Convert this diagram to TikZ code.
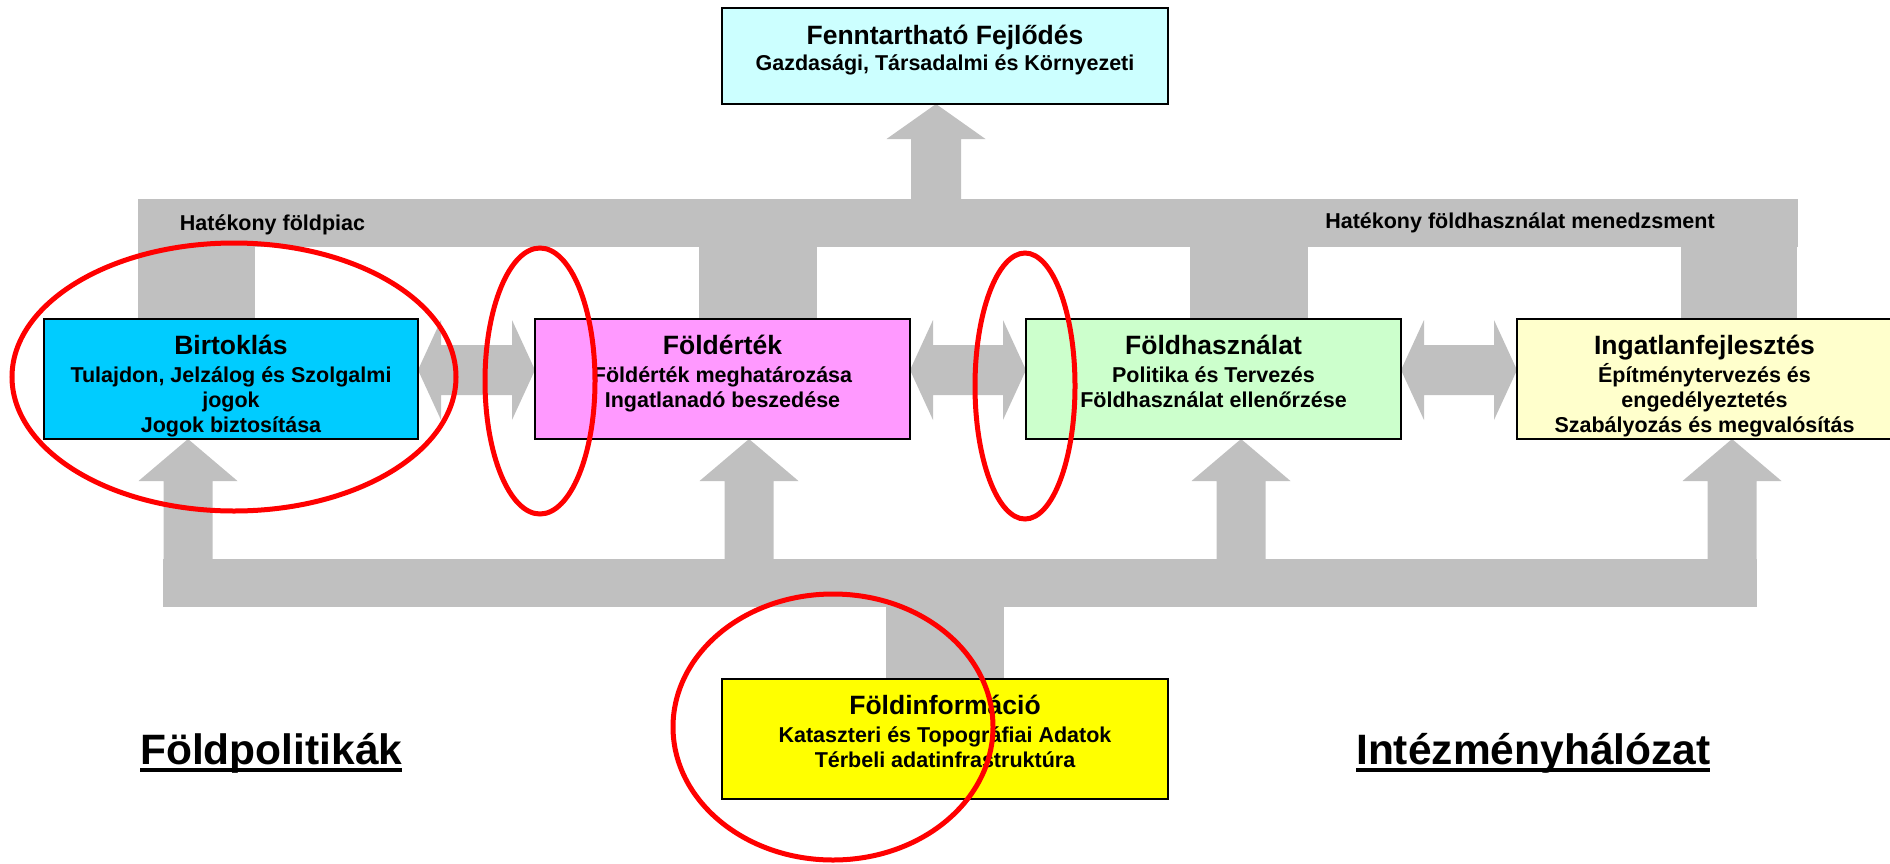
\documentclass[tikz,border=0pt]{standalone}
\usepackage{fontspec}
\setmainfont{Liberation Sans}
\usetikzlibrary{calc}
\pgfdeclarelayer{bg}
\pgfsetlayers{bg,main}
\definecolor{grayc}{HTML}{C0C0C0}
\definecolor{cyanl}{HTML}{CCFFFF}
\definecolor{cyanb}{HTML}{00CCFF}
\definecolor{pinkb}{HTML}{FF99FF}
\definecolor{greenb}{HTML}{CCFFCC}
\definecolor{yellowl}{HTML}{FFFFCC}
\definecolor{yellowb}{HTML}{FFFF00}
\definecolor{redc}{HTML}{FF0000}
\newcommand\boxtext[5]{% width, height, first baseline, gap, content (title then lines)
  \parbox[t][#2][t]{#1}{\centering\bfseries #5\par}}
\newcommand\ttlA[2]{{\fontsize{26.5}{28}\selectfont\rule{0pt}{#1}#2\par}}
\newcommand\subA[2]{\vspace{#1}{\fontsize{21.5}{25}\selectfont #2\par}}
\newcommand\myul[1]{\setbox0\hbox{#1}\rlap{\rule[-7.5pt]{\wd0}{3.5pt}}\box0}
\newcommand\dbarrow[2]{%
  \fill[grayc] let \p1=(#1.east), \p2=(#2.west) in
   (\x1,\y1+9pt) -- (\x1+23pt,\y1+59pt) -- (\x1+23pt,\y1+34pt) --
   (\x2-23pt,\y1+34pt) -- (\x2-23pt,\y1+59pt) -- (\x2,\y1+9pt) --
   (\x2-23pt,\y1-41pt) -- (\x2-23pt,\y1-16pt) -- (\x1+23pt,\y1-16pt) --
   (\x1+23pt,\y1-41pt) -- cycle;}
\newcommand\uparr[2]{%
  \fill[grayc] let \p1=([xshift=#2]#1.south) in
   (\x1,\y1) -- (\x1+49.5pt,\y1-42pt) -- (\x1+24.5pt,\y1-42pt) --
   (\x1+24.5pt,\y1-121pt) -- (\x1-24.5pt,\y1-121pt) -- (\x1-24.5pt,\y1-42pt) --
   (\x1-49.5pt,\y1-42pt) -- cycle;}
\begin{document}
\begin{tikzpicture}[x=1pt,y=-1pt,
  box/.style={draw=black,line width=2pt,inner sep=0pt,outer sep=0pt,anchor=north west},
  lbl/.style={font=\bfseries\fontsize{21.5}{25}\selectfont,inner sep=0pt,anchor=base},
  biglbl/.style={font=\bfseries\fontsize{42.5}{46}\selectfont,inner sep=0pt,anchor=base west},
  ring/.style={draw=redc,line width=5pt}]
\useasboundingbox (0,0) rectangle (1890,863);

% boxes
\node[box,fill=cyanl] (top) at (722,8) {\boxtext{446pt}{96pt}{}{}{%
  \ttlA{36pt}{Fenntartható Fejlődés}\subA{1pt}{Gazdasági, Társadalmi és Környezeti}}};
\node[box,fill=cyanb] (birt) at (44,319) {\boxtext{374pt}{120pt}{}{}{%
  \ttlA{35pt}{Birtoklás}\subA{3pt}{Tulajdon, Jelzálog és Szolgalmi\\ jogok\\ Jogok biztosítása}}};
\node[box,fill=pinkb] (fert) at (535,319) {\boxtext{375pt}{120pt}{}{}{%
  \ttlA{35pt}{Földérték}\subA{3pt}{Földérték meghatározása\\ Ingatlanadó beszedése}}};
\node[box,fill=greenb] (fhasz) at (1026,319) {\boxtext{375pt}{120pt}{}{}{%
  \ttlA{35pt}{Földhasználat}\subA{3pt}{Politika és Tervezés\\ Földhasználat ellenőrzése}}};
\node[box,fill=yellowl] (ingat) at (1517,319) {\boxtext{375pt}{120pt}{}{}{%
  \ttlA{35pt}{Ingatlanfejlesztés}\subA{3pt}{Építménytervezés és\\ engedélyeztetés\\ Szabályozás és megvalósítás}}};
\node[box,fill=yellowb] (finfo) at (722,679) {\boxtext{446pt}{120pt}{}{}{%
  \ttlA{35pt}{Földinformáció}\subA{3pt}{Kataszteri és Topográfiai Adatok\\ Térbeli adatinfrastruktúra}}};

\begin{pgfonlayer}{bg}
  % top bus
  \fill[grayc] (138,199) rectangle (1798,247);
  \fill[grayc] (138,246) rectangle (255,320);
  \fill[grayc] (699,246) rectangle (817,320);
  \fill[grayc] (1190,246) rectangle (1308,320);
  \fill[grayc] (1681,246) rectangle (1797,320);
  \fill[grayc] let \p1=([xshift=-9pt]top.south) in
   (\x1,\y1) -- (\x1+49.5pt,\y1-35pt) -- (\x1+25pt,\y1-35pt) --
   (\x1+25pt,\y1-96pt) -- (\x1-25pt,\y1-96pt) -- (\x1-25pt,\y1-35pt) --
   (\x1-49.5pt,\y1-35pt) -- cycle;
  % bottom bus
  \fill[grayc] (163,559) rectangle (1757,607);
  \fill[grayc] (886,606) rectangle (1004,680);
  \uparr{birt}{-43pt}
  \uparr{fert}{26.5pt}
  \uparr{fhasz}{27.5pt}
  \uparr{ingat}{27.5pt}
  % double arrows
  \dbarrow{birt}{fert}
  \dbarrow{fert}{fhasz}
  \dbarrow{fhasz}{ingat}
\end{pgfonlayer}

% labels
\node[lbl] (lmarket) at (272.5,230) {Hatékony földpiac};
\node[lbl] (lmgmt) at (1520,228) {Hatékony földhasználat menedzsment};
\node[biglbl] (lpol) at (140,764) {\myul{Földpolitikák}};
\node[biglbl] (lint) at (1356,764) {\myul{Intézményhálózat}};

% red rings
\draw[ring] (234,377) ellipse [x radius=222, y radius=134];
\draw[ring] (540,381) ellipse [x radius=55, y radius=133];
\draw[ring] (1025,386) ellipse [x radius=50, y radius=133];
\draw[ring] (833,727) ellipse [x radius=160, y radius=133];
\end{tikzpicture}
\end{document}
